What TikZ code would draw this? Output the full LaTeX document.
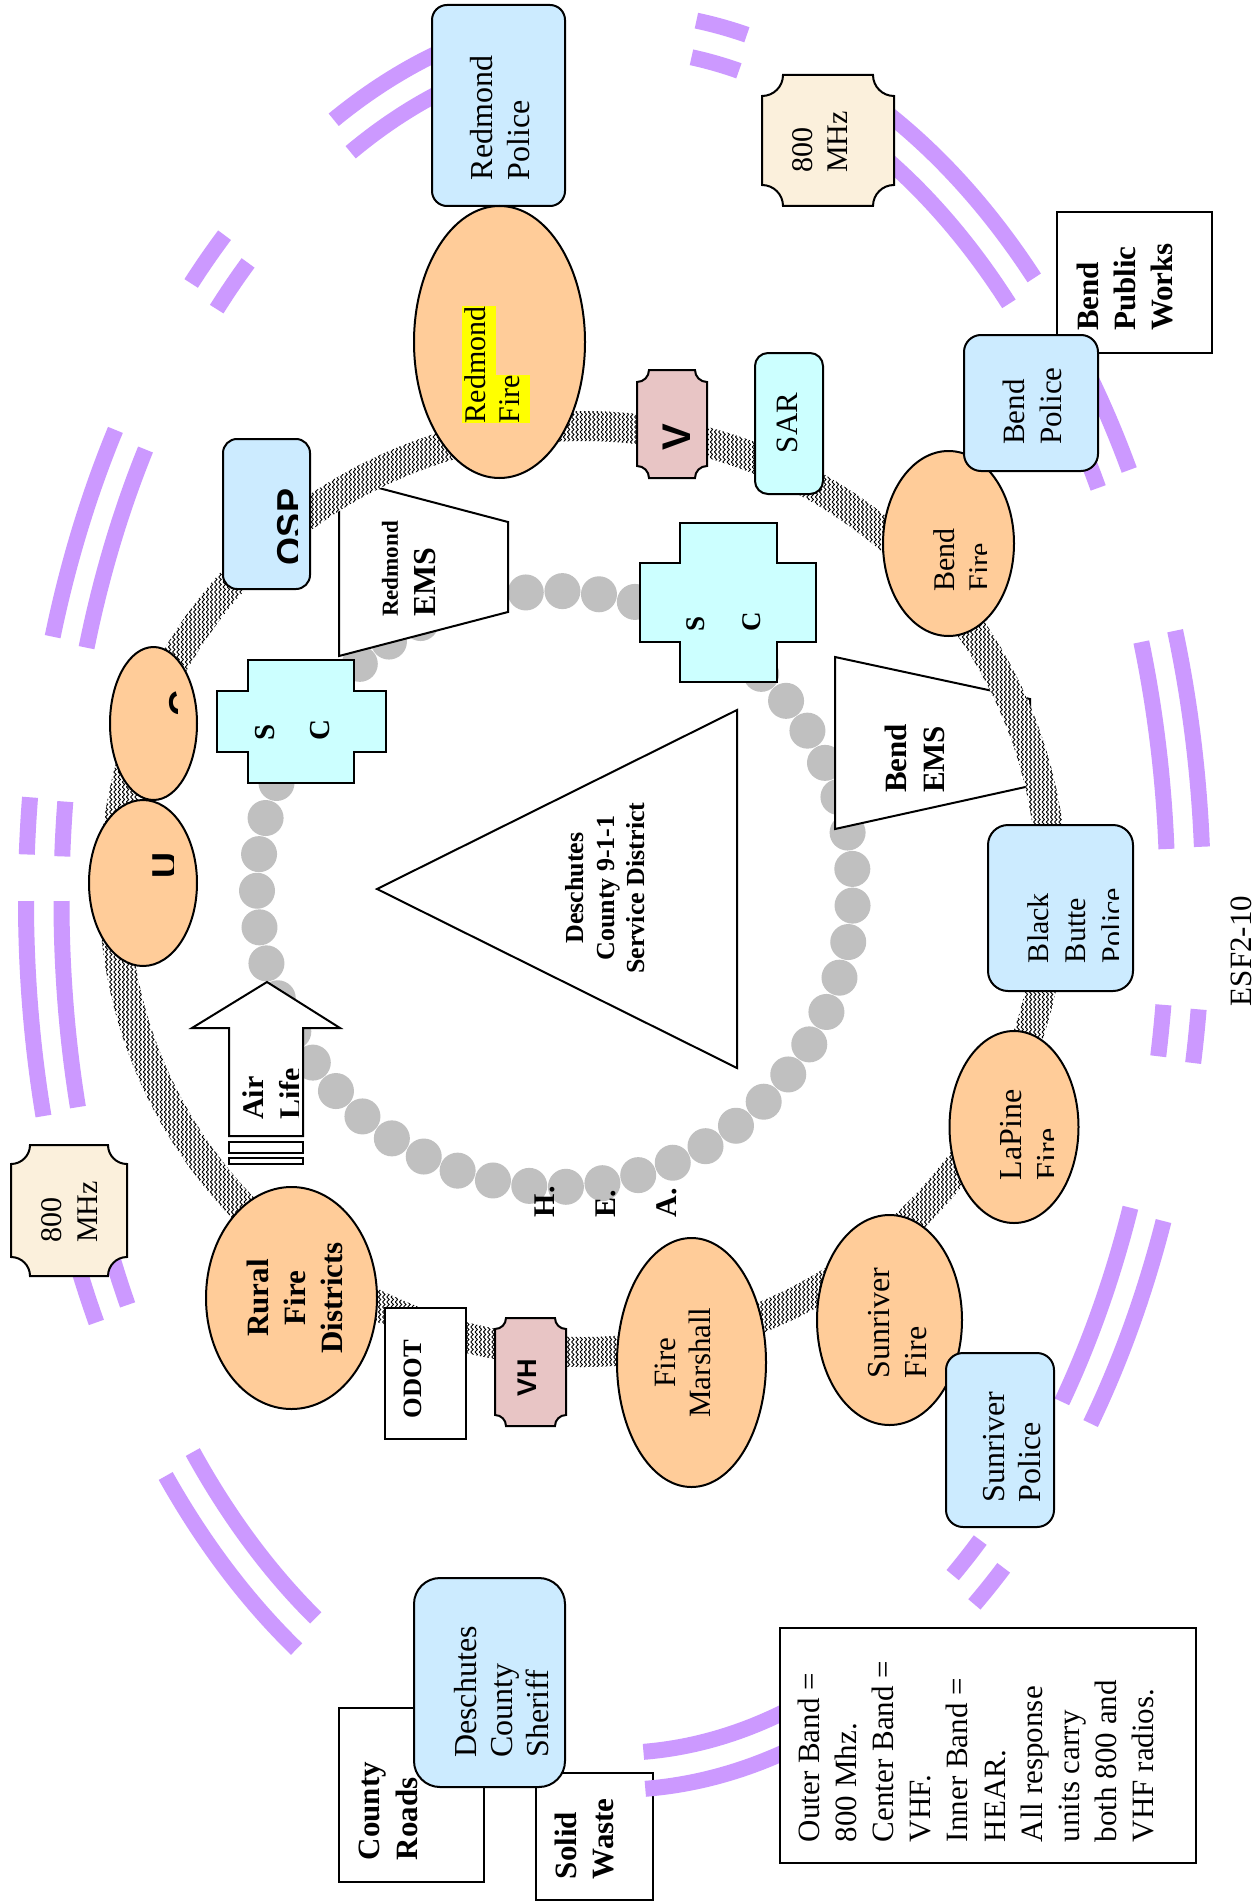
\documentclass[tikz,border=0pt]{standalone}
\usepackage{fontspec}
\setmainfont{Liberation Serif}
\newfontfamily\arialfont{Liberation Sans}
\usetikzlibrary{shapes.geometric,patterns}

\definecolor{bluefill}{HTML}{CCEBFF}
\definecolor{cyanfill}{HTML}{CCFFFF}
\definecolor{orangefill}{HTML}{FFCC99}
\definecolor{rosefill}{HTML}{E8C5C5}
\definecolor{creamfill}{HTML}{FBF0DC}
\definecolor{bandpurple}{HTML}{CC99FF}
\definecolor{dotgray}{HTML}{C0C0C0}
\definecolor{hl}{HTML}{FFFF00}

% zig-zag texture for the VHF ring
\pgfdeclarepatternformonly{zigzagv}{\pgfqpoint{-1pt}{-1pt}}{\pgfqpoint{6pt}{6pt}}{\pgfqpoint{4.2pt}{5pt}}{%
  \pgfsetlinewidth{0.9pt}%
  \pgfpathmoveto{\pgfqpoint{0.4pt}{0pt}}%
  \pgfpathlineto{\pgfqpoint{2.8pt}{2.5pt}}%
  \pgfpathlineto{\pgfqpoint{0.4pt}{5pt}}%
  \pgfusepath{stroke}}

\newcommand\tsz[2]{\fontsize{#1}{#2}\selectfont}
% rectangle with scooped corners: style, x1, y1, x2, y2, corner radius
\newcommand\plaque[6]{\path[#1] (#2+#6,#3) -- (#4-#6,#3)
  arc[start angle=180,end angle=90,radius=#6] -- (#4,#5-#6)
  arc[start angle=270,end angle=180,radius=#6] -- (#2+#6,#5)
  arc[start angle=0,end angle=-90,radius=#6] -- (#2,#3+#6)
  arc[start angle=90,end angle=0,radius=#6] -- cycle;}
% one piece of the double 800 MHz band
\newcommand\bandarc[2]{%
  \draw[band] (614.5,901) ++(#1:588.5 and 889) arc[start angle=#1,end angle=#2,x radius=588.5,y radius=889];
  \draw[band] (614.5,901) ++(#1:553 and 852) arc[start angle=#1,end angle=#2,x radius=553,y radius=852];}

\begin{document}
\begin{tikzpicture}[x=1pt,y=-1pt,
  outline/.style={draw=black,line width=2pt},
  shapebox/.style={outline,rectangle,inner sep=0pt,outer sep=0pt},
  bluebox/.style={shapebox,fill=bluefill,rounded corners=#1},
  bluebox/.default=15pt,
  cyanbox/.style={shapebox,fill=cyanfill,rounded corners=13pt},
  whitebox/.style={shapebox,fill=white},
  oval/.style={outline,ellipse,fill=orangefill,inner sep=0pt,outer sep=0pt},
  lbl/.style={rotate=90,inner sep=0pt,outer sep=0pt,align=left},
  band/.style={draw=bandpurple,line width=16pt},
  graydot/.style={fill=dotgray}]

\fill[white] (0,0) rectangle (1258,1902);
\useasboundingbox (0,0) rectangle (1258,1902);

% outer band (800 MHz)
\bandarc{-17.7}{-3.5}
\bandarc{7}{10.5}
\bandarc{21.1}{36}
\bandarc{48.6}{52.3}
\bandarc{122.7}{139.7}
\bandarc{151.7}{158}
\bandarc{166}{180}
\bandarc{183}{186.7}
\bandarc{197.3}{212}
\bandarc{224}{228.5}
\bandarc{241.5}{256}
\bandarc{278}{283}
\bandarc{296}{315.5}
\bandarc{323}{331}

% inner band (HEAR)
\foreach \k in {0,...,50} {
  \fill[graydot] (555,889) ++({87.9+7.0588*\k}:298) circle[radius=18];
}

% EMS trapezoids
\draw[outline,fill=white] (339,477.5) -- (508,522) -- (508,612) -- (339,656) -- cycle;
\draw[outline,fill=white] (835,657) -- (1030,699) -- (1030,786) -- (835,829) -- cycle;

% center band (VHF)
\fill[white,even odd rule] (583,889) ellipse[x radius=484,y radius=478] (583,889) ellipse[x radius=454,y radius=448];
\fill[pattern=zigzagv,even odd rule] (583,889) ellipse[x radius=484,y radius=478] (583,889) ellipse[x radius=454,y radius=448];

% 9-1-1 triangle
\draw[outline,fill=white] (377,889) -- (737,710) -- (737,1068) -- cycle;

% SC crosses
\draw[outline,fill=cyanfill] (680,523) -- (777,523) -- (777,563) -- (816,563) -- (816,642) -- (777,642) -- (777,682) -- (680,682) -- (680,642) -- (640,642) -- (640,563) -- (680,563) -- cycle;
\draw[outline,fill=cyanfill] (248,660) -- (354,660) -- (354,691) -- (386,691) -- (386,752) -- (354,752) -- (354,783) -- (248,783) -- (248,752) -- (217,752) -- (217,691) -- (248,691) -- cycle;

% Air Life arrow
\draw[outline,fill=white] (267,982) -- (340,1028) -- (303,1028) -- (303,1136) -- (229,1136) -- (229,1028) -- (192,1028) -- cycle;
\draw[outline,fill=white] (229,1142) rectangle (303,1153);
\draw[outline,fill=white] (229,1158) rectangle (303,1164);

% units around the ring
\node[bluebox, minimum width=133pt, minimum height=201pt] (rp) at (498.5,105.5) {};
\node[oval, minimum width=171pt, minimum height=272pt] (rf) at (499.5,342) {};
\plaque{outline,fill=rosefill}{637}{370}{707}{478}{12}
\node[cyanbox, minimum width=68pt, minimum height=141pt] (sar) at (789,423.5) {};
\plaque{outline,fill=creamfill}{762}{75}{894}{206}{21}
\node[whitebox, minimum width=155pt, minimum height=141pt] (bpw) at (1134.5,282.5) {};
\node[oval, minimum width=131pt, minimum height=185pt] (bf) at (948.5,543.5) {};
\node[bluebox=17pt, minimum width=134pt, minimum height=136pt] (bp) at (1031,403) {};
\node[bluebox=14pt, minimum width=87pt, minimum height=150pt] (osp) at (266.5,514) {};
\node[oval, minimum width=87pt, minimum height=153pt] (ec) at (153.5,723.5) {};
\node[oval, minimum width=108pt, minimum height=166pt] (eu) at (143,883) {};
\plaque{outline,fill=creamfill}{11}{1145}{127}{1276}{19}
\node[oval, minimum width=171pt, minimum height=222pt] (rfd) at (291.5,1298) {};
\node[whitebox, minimum width=81pt, minimum height=131pt] (odot) at (425.5,1373.5) {};
\plaque{outline,fill=rosefill}{495}{1318}{566}{1426}{11}
\node[oval, minimum width=149pt, minimum height=249pt] (fm) at (691.5,1362.5) {};
\node[oval, minimum width=145pt, minimum height=210pt] (srf) at (889.5,1320) {};
\node[bluebox=17pt, minimum width=108pt, minimum height=174pt] (srp) at (1000,1440) {};
\node[oval, minimum width=129pt, minimum height=192pt] (lpf) at (1014,1127) {};
\node[bluebox=20pt, minimum width=145pt, minimum height=166pt] (bbp) at (1060.5,908) {};

% county agencies and legend
\node[whitebox, minimum width=145pt, minimum height=174pt] (cr) at (411.5,1795) {};
\node[whitebox, minimum width=117pt, minimum height=127pt] (sw) at (594.5,1836.5) {};
\bandarc{72}{87}
\node[bluebox=26pt, minimum width=151pt, minimum height=209pt] (dcs) at (489.5,1682.5) {};
\node[whitebox, minimum width=416pt, minimum height=235pt] (leg) at (988,1745.5) {};

% labels
\node[lbl, font=\tsz{32}{37}] (rp-t) at (500.5,117.8) {Redmond\\Police};
\begingroup\setlength{\fboxsep}{0pt}
\node[lbl, font=\tsz{30}{34}] (rf-t) at (496,364.7) {\colorbox{hl}{\strut Redmond}\\\colorbox{hl}{\strut Fire}};
\endgroup
\node[lbl, font=\arialfont\bfseries\tsz{40}{46}] (v-t) at (677,437.5) {V};
\node[lbl, font=\tsz{31}{36}] (sar-t) at (787.5,423) {SAR};
\node[lbl, font=\tsz{30}{35}] (m8a-t) at (820,142) {800\\MHz};
\node[lbl, font=\bfseries\tsz{31}{37}] (bpw-t) at (1125,287) {Bend\\Public\\Works};
\node[lbl, font=\tsz{31}{37}] (bp-t) at (1032,406) {Bend\\Police};
\begin{scope}
  \clip (880,440) rectangle (986,640);
  \node[lbl, font=\tsz{30}{35}] (bf-t) at (962,560) {Bend\\Fire};
\end{scope}
\node[lbl, font=\bfseries\tsz{31}{38}] (bems-t) at (915.3,758.5) {Bend\\EMS};
\node[lbl, font=\bfseries\tsz{32}{38}] (rems-t) at (409,569) {{\tsz{23}{27}Redmond}\\EMS};
\node[lbl, font=\bfseries\tsz{26}{30.5}, align=center] (dc-t) at (605.5,888) {Deschutes\\County 9-1-1\\Service District};
\node[lbl, font=\bfseries\tsz{29}{55}] (scl-t) at (292.5,730.5) {S\\C};
\node[lbl, font=\bfseries\tsz{27}{56}] (scr-t) at (724,622) {S\\C};
\begin{scope}
  \clip (223,439) rectangle (297,589);
  \node[lbl, font=\arialfont\bfseries\tsz{36}{42}] (osp-t) at (290,527) {OSP};
\end{scope}
\begin{scope}
  \clip (110,640) rectangle (177,800);
  \node[lbl, font=\arialfont\bfseries\tsz{36}{42}] (ec-t) at (182,703) {C};
\end{scope}
\begin{scope}
  \clip (89,800) rectangle (173,966);
  \node[lbl, font=\arialfont\bfseries\tsz{36}{42}] (eu-t) at (165,865) {U};
\end{scope}
\begin{scope}
  \clip (229,1030) rectangle (298,1136);
  \node[lbl, font=\bfseries\tsz{30}{37}] (air-t) at (271.5,1094) {Air\\Life};
\end{scope}
\node[lbl, font=\tsz{30}{36}] (m8b-t) at (70,1212) {800\\MHz};
\node[lbl, font=\bfseries\tsz{31}{37}, align=center] (rfd-t) at (294.5,1298) {Rural\\Fire\\Districts};
\node[lbl, font=\bfseries\tsz{26.5}{31}] (odot-t) at (412.5,1379) {ODOT};
\node[lbl, font=\arialfont\bfseries\tsz{27}{32}] (vh-t) at (527,1377.5) {VH};
\node[lbl, font=\tsz{31}{35}, align=center] (fm-t) at (683,1362.5) {Fire\\Marshall};
\node[lbl, font=\bfseries\tsz{30}{61}] (hear-t) at (606,1201.6) {H.\\E.\\A.};
\node[lbl, font=\tsz{32}{37}] (srf-t) at (897.5,1323) {Sunriver\\Fire};
\node[lbl, font=\tsz{32}{36}] (srp-t) at (1012,1447) {Sunriver\\Police};
\begin{scope}
  \clip (950,1031) rectangle (1053,1223);
  \node[lbl, font=\tsz{32}{37}] (lpf-t) at (1029.5,1134.7) {LaPine\\Fire};
\end{scope}
\begin{scope}
  \clip (988,825) rectangle (1118,991);
  \node[lbl, font=\tsz{30}{37}] (bbp-t) at (1075,925.5) {Black\\Butte\\Police};
\end{scope}
\node[lbl, font=\tsz{31}{36}] (esf-t) at (1241,951) {ESF2-10};
\node[lbl, font=\tsz{32}{36}] (dcs-t) at (502,1692) {Deschutes\\County\\Sheriff};
\node[lbl, font=\bfseries\tsz{31}{38}] (cr-t) at (388,1811) {County\\Roads};
\node[lbl, font=\bfseries\tsz{31}{37}] (sw-t) at (584,1838.7) {Solid\\Waste};
\node[lbl, font=\tsz{31}{37.2}] (leg-t) at (976,1751.5) {Outer Band =\\800 Mhz.\\Center Band =\\VHF.\\Inner Band =\\HEAR.\\All response\\units carry\\both 800 and\\VHF radios.};

\end{tikzpicture}
\end{document}
